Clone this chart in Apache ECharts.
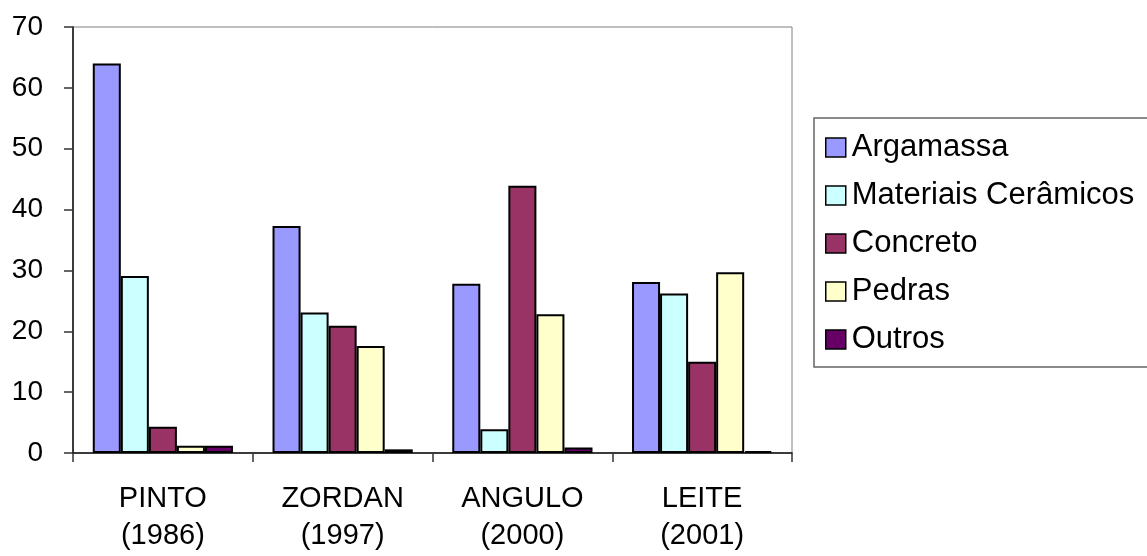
<!DOCTYPE html>
<html><head><meta charset="utf-8">
<script src="https://cdn.jsdelivr.net/npm/echarts@6/dist/echarts.min.js"></script>
<style>html,body{margin:0;padding:0;background:#fff}#c{width:1147px;height:556px}</style>
</head><body><div id="c"></div>
<script>
const categories = ['PINTO\n(1986)', 'ZORDAN\n(1997)', 'ANGULO\n(2000)', 'LEITE\n(2001)'];
const argamassa = [64, 37.3, 27.8, 28.1];
const ceramicos = [29.1, 23.1, 3.9, 26.2];
const concreto = [4.3, 20.9, 43.9, 15.0];
const pedras = [1.2, 17.6, 22.8, 29.7];
const outros = [1.2, 0.6, 0.9, 0.3];
const seriesNames = ['Argamassa', 'Materiais Cerâmicos', 'Concreto', 'Pedras', 'Outros'];
const yTicks = [0, 10, 20, 30, 40, 50, 60, 70];

const colors = ['#9999FF', '#CCFFFF', '#993366', '#FFFFCC', '#660066'];
const dataSets = [argamassa, ceramicos, concreto, pedras, outros];
const font = 'Liberation Sans, Arial, sans-serif';

const chart = echarts.init(document.getElementById('c'));
chart.setOption({
  animation: false,
  grid: { left: 73, right: 355, top: 27, bottom: 103, show: true, borderColor: '#808080', borderWidth: 1,
    outerBoundsMode: 'none', containLabel: false },
  legend: {
    orient: 'vertical', left: 814, top: 118,
    data: seriesNames,
    itemWidth: 20, itemHeight: 19, itemGap: 17,
    padding: [14, 40, 12, 11],
    borderColor: '#666', borderWidth: 1.5,
    textStyle: { fontFamily: font, fontSize: 31, lineHeight: 31, color: '#000', padding: [0, 0, 0, 1] },
    icon: 'rect',
    itemStyle: { borderColor: '#000', borderWidth: 1.5 }
  },
  xAxis: {
    type: 'category', data: categories,
    axisLine: { lineStyle: { color: '#111', width: 1.5 } },
    axisTick: { show: true, length: 9, lineStyle: { color: '#333', width: 1.5 } },
    axisLabel: { fontFamily: font, fontSize: 29, color: '#000', lineHeight: 37, margin: 27 }
  },
  yAxis: {
    type: 'value', min: 0, max: 70, interval: 10,
    axisLine: { show: true, lineStyle: { color: '#111', width: 1.5 } },
    axisTick: { show: true, length: 9, lineStyle: { color: '#333', width: 1.5 } },
    splitLine: { show: false },
    axisLabel: { fontFamily: font, fontSize: 28, color: '#000', margin: 30,
      formatter: v => yTicks.includes(v) ? String(v) : '' }
  },
  series: dataSets.map((d, i) => ({
    name: seriesNames[i], type: 'bar', data: d,
    barGap: '0%', barCategoryGap: '22%',
    itemStyle: { color: colors[i], borderColor: '#000', borderWidth: 2 }
  }))
});
</script></body></html>
